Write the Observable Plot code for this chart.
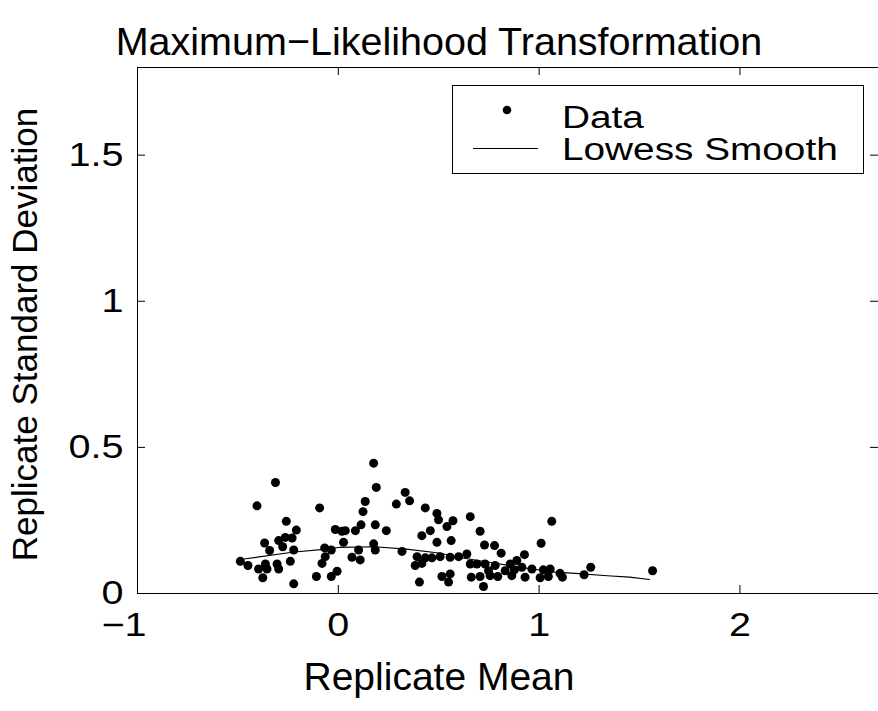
<!DOCTYPE html>
<html>
<head>
<meta charset="utf-8">
<script src="https://cdn.jsdelivr.net/npm/d3@7"></script>
<script src="https://cdn.jsdelivr.net/npm/@observablehq/plot@0.6"></script>
<style>
  body { margin: 0; background: #fff; }
  #fig { position: relative; width: 878px; height: 711px; font-family: "Liberation Sans", Arial, sans-serif; color: #000; background: #fff; }
  #title { height: 60px; box-sizing: border-box; padding-top: 21px; text-align: center; font-size: 39.5px; line-height: 40px; white-space: nowrap; }
  #legend { position: absolute; left: 452px; top: 85px; }
</style>
</head>
<body>
<div id="fig"><div id="title">Maximum−Likelihood Transformation</div></div>
<script>
// Replicate mean vs. replicate standard deviation after the ML transformation
const meanX = [
  -0.313, -0.405, -0.093, -0.259, -0.209, -0.015, 0.018, 0.026, -0.297, -0.264,
  -0.230, -0.367, -0.277, -0.222, -0.342, -0.488, -0.450, -0.363, -0.397, -0.355,
  -0.305, -0.297, -0.239, -0.376, -0.222, -0.109, -0.035, -0.006, -0.068, -0.035,
  -0.065, -0.081,
  0.176, 0.189, 0.333, 0.355, 0.289, 0.134, 0.123, 0.433, 0.491, 0.499,
  0.571, 0.541, 0.113, 0.184, 0.035, 0.085, 0.239, 0.458, 0.416, 0.491,
  0.562, 0.176, 0.184, 0.101, 0.317, 0.068, 0.109, 0.392, 0.433, 0.466,
  0.507, 0.557, 0.383, 0.416, 0.404, 0.516, 0.557, 0.549,
  0.657, 1.063, 0.706, 0.728, 0.778, 1.010, 0.811, 0.927, 0.599, 0.640,
  0.657, 0.690, 0.731, 0.781, 0.856, 0.889, 0.877, 0.914, 0.964, 1.021,
  1.055, 1.104, 0.662, 0.706, 0.756, 0.794, 0.864, 0.930, 1.005, 1.046,
  1.116, 0.723, 0.831, 0.748,
  1.257, 1.224, 1.565
];
const sdY = [
  0.380, 0.300, 0.293, 0.247, 0.217, 0.219, 0.213, 0.175, 0.181, 0.192,
  0.190, 0.173, 0.160, 0.149, 0.147, 0.110, 0.096, 0.101, 0.084, 0.084,
  0.101, 0.084, 0.110, 0.054, 0.033, 0.058, 0.058, 0.076, 0.156, 0.149,
  0.126, 0.103,
  0.446, 0.363, 0.346, 0.317, 0.306, 0.315, 0.280, 0.293, 0.274, 0.252,
  0.249, 0.229, 0.235, 0.235, 0.215, 0.215, 0.215, 0.215, 0.198, 0.175,
  0.181, 0.170, 0.149, 0.149, 0.144, 0.124, 0.115, 0.126, 0.122, 0.122,
  0.126, 0.124, 0.096, 0.103, 0.039, 0.058, 0.067, 0.039,
  0.263, 0.247, 0.213, 0.166, 0.164, 0.172, 0.138, 0.133, 0.126, 0.135,
  0.101, 0.101, 0.101, 0.096, 0.101, 0.113, 0.081, 0.090, 0.084, 0.081,
  0.084, 0.069, 0.056, 0.058, 0.061, 0.058, 0.061, 0.056, 0.054, 0.058,
  0.056, 0.024, 0.078, 0.078,
  0.090, 0.064, 0.078
];

// Lowess smooth of the same data
const lowessX = [-0.47, -0.23, -0.06, 0.01, 0.18, 0.34, 0.51, 0.58, 0.75, 0.92, 1.08, 1.18, 1.34, 1.45, 1.55];
const lowessY = [0.118, 0.141, 0.152, 0.158, 0.160, 0.152, 0.138, 0.126, 0.107, 0.088, 0.073, 0.069, 0.061, 0.056, 0.048];

// Axis ticks and their labels
const xTicks = [-1, 0, 1, 2];
const xTickLabels = ["−1", "0", "1", "2"];
const yTicks = [0, 0.5, 1, 1.5];
const yTickLabels = ["0", "0.5", "1", "1.5"];

const xLabel = "Replicate Mean";
const yLabel = "Replicate Standard Deviation";
const legendLabels = ["Data", "Lowess Smooth"];

const points = meanX.map((x, i) => ({x, y: sdY[i]}));
const smooth = lowessX.map((x, i) => ({x, y: lowessY[i]}));
const xTickTable = xTicks.map((v, i) => ({v, label: xTickLabels[i]}));

const W = 878, H = 651;
const mL = 137, mR = 0, mT = 7, mB = 118;
const frameW = W - mL - mR, frameH = H - mT - mB;
const tickLen = 8;
const tickFont = 33;      // tick label size; these glyphs are drawn a little wide
const tickStretch = 1.2;
const legendStretch = 1.25;
const font = "Liberation Sans, Arial, sans-serif";

const chart = Plot.plot({
  width: W,
  height: H,
  marginLeft: mL,
  marginRight: mR,
  marginTop: mT,
  marginBottom: mB,
  x: {domain: [-1, 2.69], axis: null},
  y: {domain: [0, 1.8], axis: null},
  style: {fontFamily: font, background: "white", overflow: "visible", color: "black"},
  marks: [
    Plot.frame({stroke: "black", strokeWidth: 1}),
    // inward tick marks on all four sides
    Plot.tickX(xTicks, {x: d => d, insetTop: frameH - tickLen, stroke: "black"}),
    Plot.tickX(xTicks, {x: d => d, insetBottom: frameH - tickLen, stroke: "black"}),
    Plot.tickY(yTicks, {y: d => d, insetRight: frameW - tickLen, stroke: "black"}),
    Plot.tickY(yTicks, {y: d => d, insetLeft: frameW - tickLen, stroke: "black"}),
    // x tick labels: the number is centred on the tick, a minus sign hangs to its left
    Plot.text(xTickTable.filter(d => d.v >= 0), {x: "v", text: "label", frameAnchor: "bottom", lineAnchor: "middle", textAnchor: "middle", dy: 32, fontSize: tickFont, fill: "black"}),
    Plot.text(xTickTable.filter(d => d.v < 0), {x: "v", text: "label", frameAnchor: "bottom", lineAnchor: "middle", textAnchor: "end", dx: 9, dy: 32, fontSize: tickFont, fill: "black"}),
    // y tick labels
    Plot.text(yTicks, {y: d => d, text: (d, i) => yTickLabels[i], frameAnchor: "left", lineAnchor: "middle", textAnchor: "end", dx: -14, fontSize: tickFont, fill: "black"}),
    // axis titles
    Plot.text([xLabel], {text: d => d, frameAnchor: "bottom", lineAnchor: "middle", textAnchor: "middle", dx: -69, dy: 84, fontSize: 39, fill: "black"}),
    Plot.text([yLabel], {text: d => d, frameAnchor: "left", lineAnchor: "middle", textAnchor: "middle", rotate: -90, dx: -112, dy: 4, fontSize: 35, fill: "black"}),
    // data
    Plot.line(smooth, {x: "x", y: "y", stroke: "black", strokeWidth: 1.1}),
    Plot.dot(points, {x: "x", y: "y", r: 4.5, fill: "black", stroke: "none"})
  ]
});
const fig = document.getElementById("fig");
fig.appendChild(chart);

// widen the tick label glyphs
function stretchText(sel, k) {
  sel.each(function () {
    const w = this.getComputedTextLength();
    if (w > 0) {
      this.setAttribute("textLength", (w * k).toFixed(1));
      this.setAttribute("lengthAdjust", "spacingAndGlyphs");
    }
  });
}
stretchText(d3.select(chart).selectAll(`g[font-size="${tickFont}"] text`), tickStretch);

// Legend box, upper right inside the axes
const lg = d3.select(fig).append("svg")
  .attr("id", "legend")
  .attr("width", 412)
  .attr("height", 89)
  .style("font-family", font);
lg.append("rect").attr("x", 0.5).attr("y", 0.5).attr("width", 411).attr("height", 88)
  .attr("fill", "white").attr("stroke", "black").attr("stroke-width", 1);
lg.append("circle").attr("cx", 55).attr("cy", 25).attr("r", 4.3).attr("fill", "black");
lg.append("line").attr("x1", 21).attr("x2", 86).attr("y1", 63.5).attr("y2", 63.5)
  .attr("stroke", "black").attr("stroke-width", 1);
const legendText = lg.selectAll("text.lbl").data(legendLabels).join("text")
  .attr("class", "lbl")
  .attr("x", 110)
  .attr("y", (d, i) => i === 0 ? 43 : 75)
  .attr("font-size", 31)
  .attr("fill", "black")
  .text(d => d);
stretchText(legendText, legendStretch);
</script>
</body>
</html>
